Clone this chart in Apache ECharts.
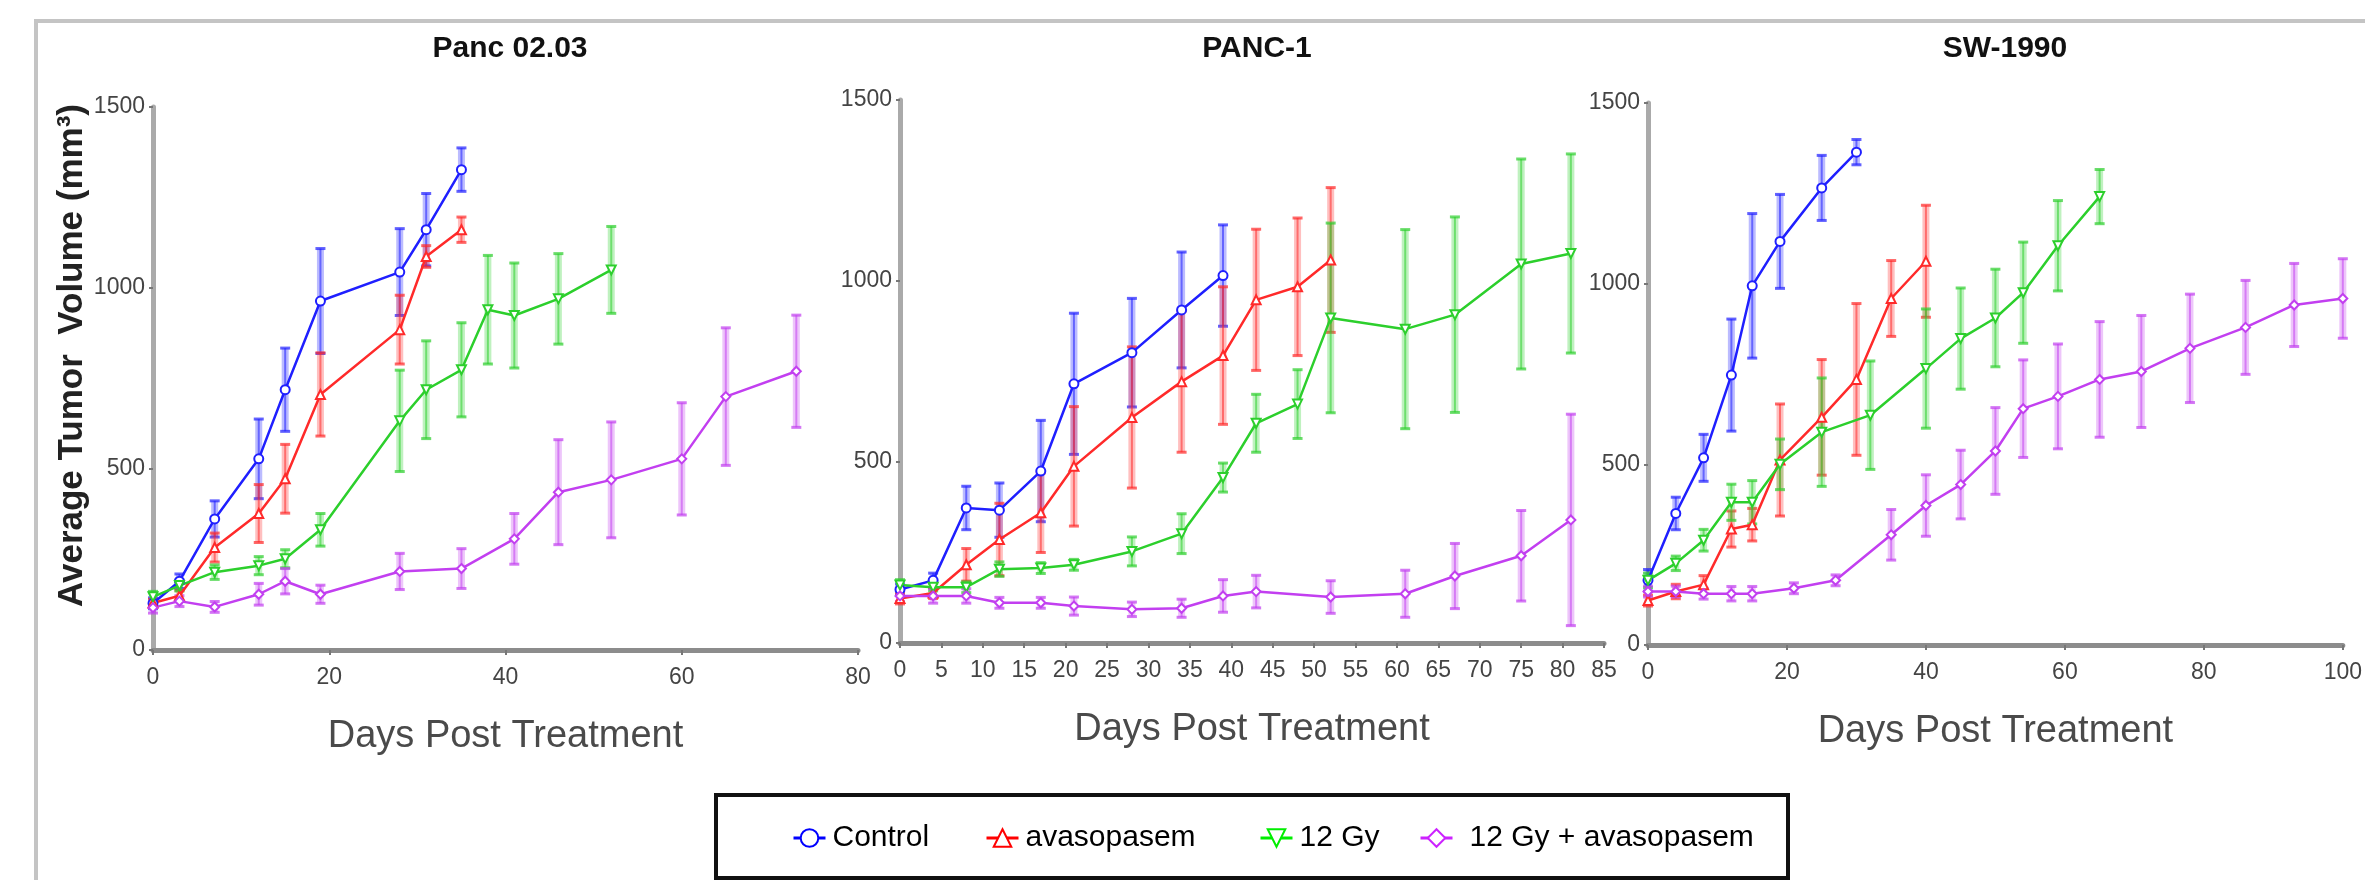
<!DOCTYPE html>
<html>
<head>
<meta charset="utf-8">
<script src="https://cdn.jsdelivr.net/npm/echarts@6/dist/echarts.min.js"></script>
<style>
  body { margin: 0; background: #fff; }
  #main { width: 2365px; height: 880px; }
</style>
</head>
<body>
<div id="main"></div>
<script>
// [day, mean volume, error]
var panc02Control = [[0,129,15],[3,190,20],[7,362,50],[12,528,110],[15,719,115],[19,964,145],[28,1044,120],[31,1161,100],[35,1327,60]];
var panc02Avaso = [[0,130,10],[3,150,15],[7,283,40],[12,377,80],[15,473,95],[19,706,115],[28,885,95],[31,1087,30],[35,1161,35]];
var panc02Gy = [[0,147,15],[3,178,15],[7,215,20],[12,233,25],[15,252,25],[19,332,45],[28,633,140],[31,719,135],[35,774,130],[38,940,150],[41,924,145],[46,970,125],[52,1050,120]];
var panc02Combo = [[0,117,15],[3,135,15],[7,119,15],[12,154,30],[15,190,35],[19,154,25],[28,217,50],[35,225,55],[41,307,70],[46,436,145],[52,470,160],[60,528,155],[65,700,190],[73,770,155]];

var panc1Control = [[0,148,15],[4,173,20],[8,373,60],[12,367,75],[17,475,140],[21,716,195],[28,802,150],[34,920,160],[39,1015,140]];
var panc1Avaso = [[0,123,15],[4,138,15],[8,216,45],[12,286,100],[17,360,110],[21,488,165],[28,623,195],[34,722,195],[39,794,190],[43,948,195],[48,984,190],[52,1058,200]];
var panc1Gy = [[0,160,15],[4,154,10],[8,154,15],[12,204,20],[17,207,15],[21,216,15],[28,253,40],[34,302,55],[39,457,40],[43,607,80],[48,660,95],[52,898,262],[61,867,275],[67,907,270],[75,1047,290],[81,1076,275]];
var panc1Combo = [[0,130,15],[4,130,20],[8,130,20],[12,111,15],[17,111,15],[21,102,25],[28,93,20],[34,96,25],[39,130,45],[43,142,45],[52,127,45],[61,136,65],[67,185,90],[75,241,125],[81,340,292]];

var sw1990Control = [[0,179,30],[4,364,45],[8,518,65],[12,747,155],[15,994,200],[19,1117,130],[25,1265,90],[30,1364,35]];
var sw1990Avaso = [[0,123,15],[4,148,20],[8,167,25],[12,321,50],[15,333,45],[19,512,155],[25,630,160],[30,735,210],[35,959,105],[40,1062,155]];
var sw1990Gy = [[0,179,20],[4,226,20],[8,290,30],[12,395,50],[15,395,60],[19,500,70],[25,589,150],[32,636,150],[40,765,165],[45,848,140],[50,905,135],[54,975,140],[59,1105,125],[65,1241,75]];
var sw1990Combo = [[0,148,15],[4,148,15],[8,142,15],[12,142,20],[15,142,20],[21,157,15],[27,179,15],[35,305,70],[40,386,85],[45,444,95],[50,537,120],[54,654,135],[59,688,145],[65,735,160],[71,757,155],[78,821,150],[86,879,130],[93,941,115],[100,959,110]];

var groupNames = ['Control', 'avasopasem', '12 Gy', '12 Gy + avasopasem'];
var panelTitles = ['Panc 02.03', 'PANC-1', 'SW-1990'];
var xMax = [80, 85, 100];
var xStep = [20, 5, 20];

var panelData = [
    [panc02Control, panc02Avaso, panc02Gy, panc02Combo],
    [panc1Control, panc1Avaso, panc1Gy, panc1Combo],
    [sw1990Control, sw1990Avaso, sw1990Gy, sw1990Combo]
];

var colors = ['#1f1fff', '#ff2a2a', '#2ccf2c', '#c23ff0'];
var legendColors = ['#0000ff', '#ff0000', '#00ee00', '#cc22ff'];
var symbols = ['emptyCircle', 'emptyTriangle', 'emptyTriangle', 'emptyDiamond'];
var rotates = [0, 0, 180, 0];

var grids = [
    {left: 153, top: 107, width: 705, height: 543},
    {left: 900, top: 100, width: 704, height: 543},
    {left: 1648, top: 103, width: 704, height: 542}
];
var titleX = [505, 1252, 2000];

var chart = echarts.init(document.getElementById('main'));

function errorBars(idx, data, color) {
    return {
        type: 'custom',
        name: 'err',
        xAxisIndex: idx,
        yAxisIndex: idx,
        z: 1,
        silent: true,
        data: data,
        renderItem: function (params, api) {
            var x = api.value(0), m = api.value(1), e = api.value(2);
            var top = api.coord([x, m + e]);
            var bot = api.coord([x, m - e]);
            var capStyle = {stroke: color, lineWidth: 3, opacity: 0.7};
            return {
                type: 'group',
                children: [
                    {type: 'line', shape: {x1: top[0], y1: top[1], x2: bot[0], y2: bot[1]},
                        style: {stroke: color, lineWidth: 7, opacity: 0.3}},
                    {type: 'line', shape: {x1: top[0], y1: top[1], x2: bot[0], y2: bot[1]},
                        style: {stroke: color, lineWidth: 2, opacity: 0.55}},
                    {type: 'line', shape: {x1: top[0] - 5, y1: top[1], x2: top[0] + 5, y2: top[1]}, style: capStyle},
                    {type: 'line', shape: {x1: bot[0] - 5, y1: bot[1], x2: bot[0] + 5, y2: bot[1]}, style: capStyle}
                ]
            };
        }
    };
}

var xAxes = [], yAxes = [], titles = [], series = [];
for (var p = 0; p < 3; p++) {
    titles.push({
        text: panelTitles[p],
        left: titleX[p],
        top: 29,
        textAlign: 'center',
        textStyle: {fontFamily: 'Liberation Sans', fontSize: 30, fontWeight: 'bold', color: '#111'}
    });
    xAxes.push({
        type: 'value',
        gridIndex: p,
        min: 0,
        max: xMax[p],
        interval: xStep[p],
        name: 'Days Post Treatment',
        nameLocation: 'middle',
        nameGap: 68,
        nameTextStyle: {fontFamily: 'Liberation Sans', fontSize: 38, color: '#4a4a4a'},
        axisLine: {show: true, lineStyle: {color: '#8c8c8c', width: 5}},
        axisTick: {show: true, length: 5, lineStyle: {color: '#777', width: 2}},
        axisLabel: {fontFamily: 'Liberation Sans', fontSize: 23, color: '#444', margin: 16},
        splitLine: {show: false}
    });
    yAxes.push({
        type: 'value',
        gridIndex: p,
        min: 0,
        max: 1500,
        interval: 500,
        name: p === 0 ? 'Average Tumor  Volume (mm\u00b3)' : '',
        nameLocation: 'middle',
        nameRotate: 90,
        nameGap: 62,
        nameTextStyle: {fontFamily: 'Liberation Sans', fontSize: 35, fontWeight: 'bold', color: '#222', padding: [0, 0, 0, 46]},
        axisLine: {show: true, lineStyle: {color: '#aaaaaa', width: 5}},
        axisTick: {show: true, length: 4, lineStyle: {color: '#777', width: 2}},
        axisLabel: {fontFamily: 'Liberation Sans', fontSize: 23, color: '#444', margin: 8,
            formatter: function (v) { return String(v); }},
        splitLine: {show: false}
    });
    for (var s = 0; s < 4; s++) {
        series.push(errorBars(p, panelData[p][s], colors[s]));
    }
    for (var s2 = 0; s2 < 4; s2++) {
        series.push({
            type: 'line',
            name: groupNames[s2],
            xAxisIndex: p,
            yAxisIndex: p,
            z: 3,
            data: panelData[p][s2].map(function (d) { return [d[0], d[1]]; }),
            symbol: symbols[s2],
            symbolRotate: rotates[s2],
            symbolSize: 9,
            color: colors[s2],
            lineStyle: {width: 2.5, color: colors[s2]},
            itemStyle: {color: colors[s2], borderWidth: 2},
            animation: false
        });
    }
}

// legend items placed as in the figure
var legendLeft = [787, 980, 1254, 1414];
var legends = groupNames.map(function (n, i) {
    return {
        data: [n],
        left: legendLeft[i],
        top: 818,
        itemWidth: 32,
        itemHeight: 22,
        itemGap: 0,
        symbolRotate: 'inherit',
        itemStyle: {borderWidth: 3, color: legendColors[i], borderColor: legendColors[i]},
        lineStyle: {width: 3, color: legendColors[i]},
        textStyle: {fontFamily: 'Liberation Sans', fontSize: 30, color: '#000',
            padding: [0, 0, 0, i === 3 ? 12 : 2]}
    };
});

option = {
    backgroundColor: '#fff',
    animation: false,
    title: titles,
    grid: grids,
    xAxis: xAxes,
    yAxis: yAxes,
    legend: legends,
    series: series,
    graphic: [
        {
            type: 'rect',
            shape: {x: 36, y: 21, width: 2400, height: 900},
            style: {fill: 'none', stroke: '#c4c4c4', lineWidth: 4},
            silent: true
        },
        {
            type: 'rect',
            shape: {x: 716, y: 795, width: 1072, height: 83},
            style: {fill: 'none', stroke: '#111', lineWidth: 4},
            silent: true
        }
    ]
};

chart.setOption(option);
</script>
</body>
</html>
